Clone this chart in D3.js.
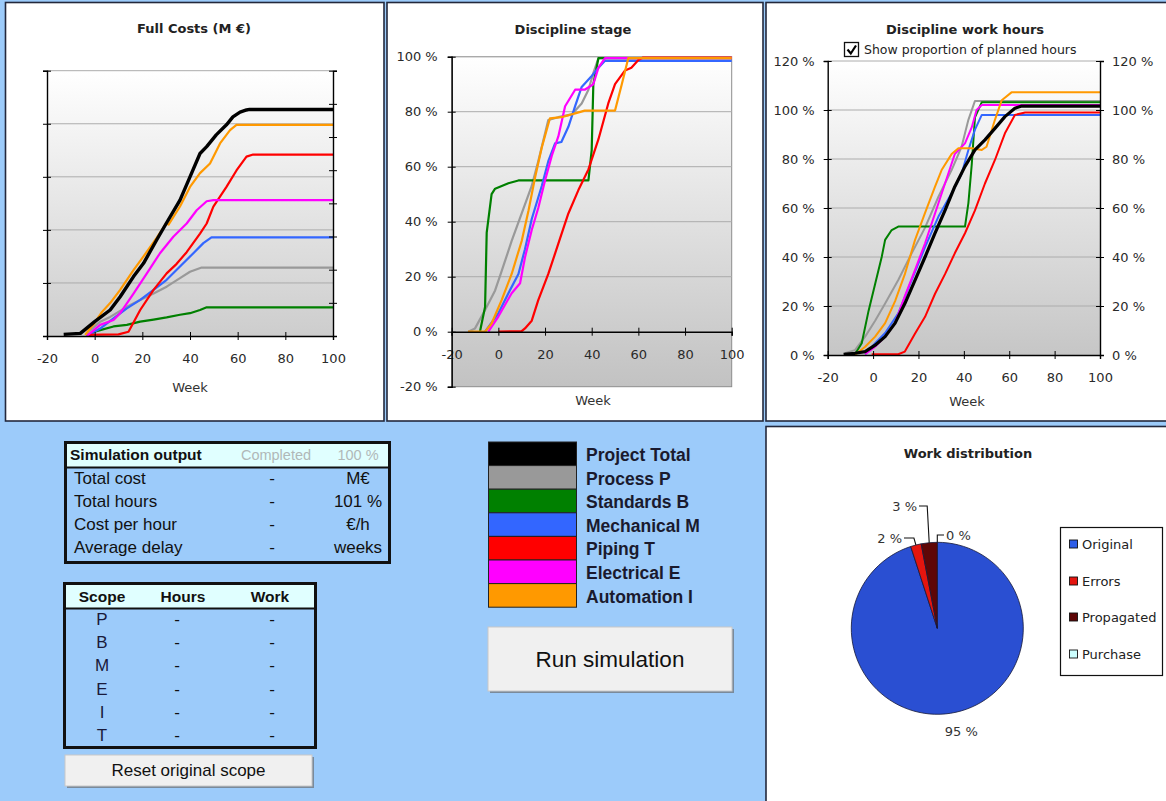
<!DOCTYPE html>
<html><head><meta charset="utf-8">
<script src="https://cdn.jsdelivr.net/npm/d3@7"></script>
<style>body{margin:0;background:#9ccbfa;} svg{display:block;}</style>
</head><body><svg id="c" width="1166" height="801"></svg>
<script>
// ---------------- DATA ----------------
const weekTicks = [-20, 0, 20, 40, 60, 80, 100];
const stageTicks = [-20, 0, 20, 40, 60, 80, 100];
const hoursTicks = [0, 20, 40, 60, 80, 100, 120];
const costLeftTicks = [0, 1, 2, 3, 4, 5];
const costRightTicks = [0, 1, 2, 3, 4, 5, 6, 7, 8];

const seriesNames = ["Project Total", "Process P", "Standards B", "Mechanical M", "Piping T", "Electrical E", "Automation I"];
const seriesColors = ["#000000", "#999999", "#008000", "#3366ff", "#ff0000", "#ff00ff", "#ff9900"];

// Full costs (unlabelled units, [week, value])
const costTotal = [[-13,0.03],[-6,0.05],[0,0.27],[6.5,0.49],[10.7,0.74],[16.3,1.12],[20.5,1.37],[26,1.81],[30,2.12],[35.8,2.56],[40,3.0],[44.2,3.44],[47,3.57],[51,3.79],[55.3,3.98],[58,4.13],[61,4.22],[63.7,4.26],[65,4.27],[100,4.27]];
const costProcess = [[-3.3,0.05],[2.3,0.27],[6.5,0.36],[13.5,0.55],[19.1,0.68],[24.7,0.80],[30.2,0.93],[35.8,1.09],[40,1.21],[44.9,1.29],[100,1.29]];
const costStandards = [[-3.3,0.0],[0,0.08],[2.3,0.11],[7.9,0.18],[13.5,0.21],[19.1,0.27],[24.7,0.31],[30.2,0.35],[35.8,0.40],[40,0.43],[44.2,0.49],[47,0.54],[100,0.54]];
const costMechanical = [[-3.3,0.0],[2.3,0.14],[7.9,0.33],[13.5,0.52],[19.1,0.68],[24.7,0.87],[30.2,1.06],[35.8,1.31],[41.4,1.56],[45.6,1.75],[49,1.86],[100,1.86]];
const costPiping = [[-3,0.02],[10,0.03],[14.2,0.08],[19.1,0.49],[24.7,0.87],[30.2,1.18],[34.4,1.36],[38.6,1.58],[44.2,1.93],[47,2.12],[49.8,2.44],[55.3,2.81],[59.5,3.12],[63.7,3.38],[66.5,3.42],[100,3.42]];
const costElectrical = [[-3.3,0.0],[2.3,0.21],[7.9,0.30],[10.7,0.43],[16.3,0.80],[21.9,1.18],[27.4,1.56],[33,1.87],[38.6,2.12],[42.8,2.37],[47,2.54],[49.8,2.56],[100,2.56]];
const costAutomation = [[-4,0.02],[0,0.25],[3,0.45],[6.5,0.62],[10.7,0.87],[16.3,1.24],[20.5,1.5],[26,1.85],[30,2.12],[31,2.1],[35.8,2.44],[40,2.81],[44.2,3.07],[48.4,3.25],[52.6,3.63],[56.8,3.88],[59.5,3.98],[100,3.98]];

// Discipline stage (%)
const stageProcess = [[-12.9,0],[-10,1.2],[-5.7,7.9],[-1.4,15],[1.4,22],[5.7,33],[10,43],[14.3,53],[17.1,62],[21.4,77],[25.7,78],[31.4,79],[35.7,83],[38.6,88],[40.7,94],[42.9,99.5],[100,99.5]];
const stageStandards = [[-7.9,0],[-5.7,9],[-5,36],[-2.9,50],[-1.4,52],[4.3,54],[8.6,55],[38.6,55],[40,66],[40.7,90],[42.9,99.5],[100,99.5]];
const stageMechanical = [[-5.7,0],[0,6.7],[4.3,14],[8.6,21],[11.4,30],[14.3,41],[18.6,53],[21.4,62],[24.3,68.5],[27,69],[30,74.5],[32.9,82],[35.7,89],[40,93],[42.9,96],[45.7,98.5],[100,98.5]];
const stagePiping = [[0,0],[10,0.2],[11.4,1.2],[14.3,4],[17.1,11.5],[21.4,21],[25.7,32],[30,43],[34.3,51.5],[38.6,59],[42.9,70],[47.1,83],[50,90],[54.3,95],[57,96],[60,98.8],[62,99.7],[100,99.7]];
const stageElectrical = [[-4.3,0],[0,5.5],[5.7,14],[9.3,17.6],[11.4,27],[14.3,37],[17.1,45],[20,55],[22.9,64],[25.7,71],[28.6,82],[32.9,88],[37,88],[40.7,90],[42.9,96],[45.7,99.5],[100,99.5]];
const stageAutomation = [[-13,0],[-5.7,0],[-2.9,3],[1.4,11.5],[5.7,21],[10,33],[12.9,44],[15.7,56],[18.6,67],[22.1,77.6],[27,78],[32.9,79.4],[37,80.4],[50,80.4],[52.9,90],[55.7,99.5],[100,99.5]];

// Discipline work hours (% of planned)
const hoursTotal = [[-13,0.3],[-8,0.7],[-3.5,1.4],[0.9,4],[5.3,7.5],[9.7,13],[14,21],[18.5,30.6],[22.9,40],[27.3,49.7],[31.7,59],[36,68.7],[40.5,77],[44.9,83.7],[49.3,87.8],[53.7,92.5],[58.1,97.3],[62.5,100.7],[65.5,101.6],[100,101.6]];
const hoursProcess = [[-12.4,0.7],[-8,2],[-3.5,7.5],[0.9,14],[5.3,21],[11.1,30.6],[17,41.5],[22.9,52],[28.8,64.6],[34.6,75.5],[39,85],[42,96],[44.9,103.7],[100,103.7]];
const hoursStandards = [[-8,0.3],[-5,4.8],[-2,18],[0.9,29],[3.8,40],[5.3,47],[8.2,51],[11.1,52.4],[40.5,52.4],[42,62],[43.5,78],[44.9,97],[47.9,103.2],[100,103.2]];
const hoursMechanical = [[-3.5,0.3],[0.9,4.8],[5.3,9],[11.1,17],[17,30.6],[22.9,44],[28.8,56.5],[34.6,66],[39,74],[42,83.7],[44.9,92],[47.9,98],[100,98]];
const hoursPiping = [[-0.6,0.3],[11.1,0.3],[14,1.4],[18.5,8.8],[22.9,15.6],[27.3,25],[31.7,33],[36,41.5],[40.5,49.7],[44.9,59],[49.3,70],[53.7,79.6],[58.1,90.5],[62.5,98],[67,99],[100,99]];
const hoursElectrical = [[-3.5,0.3],[0.9,3.4],[5.3,7.5],[9.7,13],[14,24],[18.5,34.7],[22.9,45.6],[27.3,57.8],[31.7,70],[36,82],[40.5,86.4],[43.5,93],[45.6,100],[47.9,102],[100,102]];
const hoursAutomation = [[-8,0],[-3.5,3.4],[0.9,7.5],[5.3,13],[9.7,22],[14,33],[18.5,47],[22.9,58],[27.3,68.7],[30.2,75.5],[34.6,82],[37.6,84.4],[43.5,84.4],[47.9,83.7],[50,85],[53.7,96],[56.7,104],[61,107.2],[100,107.2]];

// Work distribution pie
const pieLabels = ["Original", "Errors", "Propagated", "Purchase"];
const pieValues = [95, 2, 3, 0];

// Tables
const outputRows = ["Total cost", "Total hours", "Cost per hour", "Average delay"];
const outputValues = ["-", "-", "-", "-"];
const outputUnits = ["M€", "101 %", "€/h", "weeks"];
const scopeRows = ["P", "B", "M", "E", "I", "T"];
const scopeHours = ["-", "-", "-", "-", "-", "-"];
const scopeWork = ["-", "-", "-", "-", "-", "-"];

// ---------------- DRAW ----------------
const svg = d3.select("#c");
svg.append("rect").attr("width", 1166).attr("height", 801).attr("fill", "#9ccbfa");
const defs = svg.append("defs");
function vgrad(id, bottom) {
  const g = defs.append("linearGradient").attr("id", id).attr("x1", 0).attr("y1", 0).attr("x2", 0).attr("y2", 1);
  g.append("stop").attr("offset", 0).attr("stop-color", "#ffffff");
  g.append("stop").attr("offset", 1).attr("stop-color", bottom);
}
vgrad("g1", "#cdcdcd"); vgrad("g2", "#c2c2c2"); vgrad("g3", "#c6c6c6");

function panel(x, y, w, h) {
  svg.append("rect").attr("x", x).attr("y", y).attr("width", w).attr("height", h)
    .attr("fill", "#fff").attr("stroke", "#23283c").attr("stroke-width", 1.6);
}
panel(5.5, 2.5, 378.5, 418.5);
panel(387, 2.5, 376, 418.5);
panel(766, 2.5, 402, 418.5);
panel(766, 426.5, 402, 378);

const F = "DejaVu Sans";
const TXT = "#222";
const fmtNum = d => String(d);
const fmtPct = d => d + " %";

function title(x, y, s) {
  svg.append("text").attr("x", x).attr("y", y).attr("text-anchor", "middle").attr("dy", "0.35em")
    .attr("font-family", F).attr("font-weight", "bold").attr("font-size", 13).attr("fill", TXT).text(s);
}
function axisText(sel) {
  sel.selectAll("text").attr("font-family", F).attr("font-size", 13).attr("fill", "#2a2a2a");
}
function drawSeries(g, x, y, list, widths) {
  const line = d3.line().x(d => x(d[0])).y(d => y(d[1]));
  list.forEach(s => {
    g.append("path").attr("d", line(s.data)).attr("fill", "none").attr("stroke", seriesColors[s.c])
      .attr("stroke-width", widths[s.c]).attr("stroke-linejoin", "round");
  });
}

// ---- Chart 1: Full Costs ----
(function () {
  const L = 47, R = 333, T = 70.7, B = 336;
  const x = d3.scaleLinear().domain([-20, 100]).range([L, R]);
  const y = d3.scaleLinear().domain([0, 5]).range([B, T]);
  const yR = d3.scaleLinear().domain([0, 8]).range([B, T]);
  const g = svg.append("g");
  g.append("rect").attr("x", L).attr("y", T).attr("width", R - L).attr("height", B - T).attr("fill", "url(#g1)");
  g.selectAll(".gl").data(costLeftTicks.slice(1)).join("line")
    .attr("x1", L).attr("x2", R).attr("y1", d => y(d)).attr("y2", d => y(d)).attr("stroke", "#acacac");
  const series = [
    {data: costProcess, c: 1}, {data: costStandards, c: 2}, {data: costMechanical, c: 3},
    {data: costPiping, c: 4}, {data: costElectrical, c: 5}, {data: costAutomation, c: 6}, {data: costTotal, c: 0}];
  drawSeries(g, x, y, series, [3.4, 2.2, 2.2, 2.2, 2.2, 2.2, 2.2]);
  const ax = g.append("g").attr("transform", `translate(0,${B})`)
    .call(d3.axisBottom(x).tickValues(weekTicks).tickSize(4).tickPadding(14).tickFormat(fmtNum));
  ax.select(".domain").attr("stroke", "#000").attr("stroke-width", 1.4);
  ax.selectAll(".tick line").attr("y1", -4).attr("y2", 4).attr("stroke", "#000");
  axisText(ax);
  const al = g.append("g").attr("transform", `translate(${L},0)`)
    .call(d3.axisLeft(y).tickValues(costLeftTicks).tickSize(4).tickFormat(""));
  al.select(".domain").attr("stroke", "#000").attr("stroke-width", 1.4);
  al.selectAll(".tick line").attr("x1", -4).attr("x2", 4).attr("stroke", "#000");
  const ar = g.append("g").attr("transform", `translate(${R},0)`)
    .call(d3.axisRight(yR).tickValues(costRightTicks).tickSize(4).tickFormat(""));
  ar.select(".domain").attr("stroke", "#000").attr("stroke-width", 1.4);
  ar.selectAll(".tick line").attr("x1", -4).attr("x2", 4).attr("stroke", "#000");
  title(194, 28, "Full Costs (M €)");
  svg.append("text").attr("x", 190).attr("y", 387).attr("dy", "0.35em").attr("text-anchor", "middle")
    .attr("font-family", F).attr("font-size", 13).attr("fill", "#333").text("Week");
})();

// ---- Chart 2: Discipline stage ----
(function () {
  const L = 451.7, R = 731.7, T = 56.7, B = 386.7;
  const x = d3.scaleLinear().domain([-20, 100]).range([L, R]);
  const y = d3.scaleLinear().domain([-20, 100]).range([B, T]);
  const g = svg.append("g");
  g.append("rect").attr("x", L).attr("y", T).attr("width", R - L).attr("height", B - T)
    .attr("fill", "url(#g2)").attr("stroke", "#8c8c8c").attr("stroke-width", 1);
  g.selectAll(".gl").data(stageTicks.filter(d => d > 0)).join("line")
    .attr("x1", L).attr("x2", R).attr("y1", d => y(d)).attr("y2", d => y(d)).attr("stroke", "#acacac");
  const series = [
    {data: stageProcess, c: 1}, {data: stageStandards, c: 2}, {data: stageMechanical, c: 3},
    {data: stagePiping, c: 4}, {data: stageElectrical, c: 5}, {data: stageAutomation, c: 6}];
  drawSeries(g, x, y, series, [3, 2.2, 2.2, 2.2, 2.2, 2.2, 2.2]);
  const ax = g.append("g").attr("transform", `translate(0,${y(0)})`)
    .call(d3.axisBottom(x).tickValues(weekTicks).tickSize(4).tickPadding(14).tickFormat(fmtNum));
  ax.select(".domain").attr("stroke", "#000").attr("stroke-width", 1.4);
  ax.selectAll(".tick line").attr("y1", -4).attr("y2", 4).attr("stroke", "#000");
  axisText(ax);
  const al = g.append("g").attr("transform", `translate(${L},0)`)
    .call(d3.axisLeft(y).tickValues(stageTicks).tickSize(4).tickPadding(10).tickFormat(fmtPct));
  al.select(".domain").attr("stroke", "#000").attr("stroke-width", 1.4);
  al.selectAll(".tick line").attr("x1", -4).attr("x2", 4).attr("stroke", "#000");
  axisText(al);
  title(573, 29, "Discipline stage");
  svg.append("text").attr("x", 593).attr("y", 400).attr("dy", "0.35em").attr("text-anchor", "middle")
    .attr("font-family", F).attr("font-size", 13).attr("fill", "#333").text("Week");
})();

// ---- Chart 3: Discipline work hours ----
(function () {
  const L = 827.7, R = 1100, T = 61, B = 355;
  const x = d3.scaleLinear().domain([-20, 100]).range([L, R]);
  const y = d3.scaleLinear().domain([0, 120]).range([B, T]);
  const g = svg.append("g");
  g.append("rect").attr("x", L).attr("y", T).attr("width", R - L).attr("height", B - T).attr("fill", "url(#g3)");
  g.selectAll(".gl").data(hoursTicks.filter(d => d > 0)).join("line")
    .attr("x1", L).attr("x2", R).attr("y1", d => y(d)).attr("y2", d => y(d)).attr("stroke", "#acacac");
  const series = [
    {data: hoursProcess, c: 1}, {data: hoursStandards, c: 2}, {data: hoursMechanical, c: 3},
    {data: hoursPiping, c: 4}, {data: hoursElectrical, c: 5}, {data: hoursAutomation, c: 6}, {data: hoursTotal, c: 0}];
  drawSeries(g, x, y, series, [3.2, 2, 2, 2, 2, 2, 2]);
  const ax = g.append("g").attr("transform", `translate(0,${B})`)
    .call(d3.axisBottom(x).tickValues(weekTicks).tickSize(4).tickPadding(14).tickFormat(fmtNum));
  ax.select(".domain").attr("stroke", "#000").attr("stroke-width", 1.4);
  ax.selectAll(".tick line").attr("y1", -4).attr("y2", 4).attr("stroke", "#000");
  axisText(ax);
  const al = g.append("g").attr("transform", `translate(${L},0)`)
    .call(d3.axisLeft(y).tickValues(hoursTicks).tickSize(4).tickPadding(9).tickFormat(fmtPct));
  al.select(".domain").attr("stroke", "#000").attr("stroke-width", 1.4);
  al.selectAll(".tick line").attr("x1", -4).attr("x2", 4).attr("stroke", "#000");
  axisText(al);
  const ar = g.append("g").attr("transform", `translate(${R},0)`)
    .call(d3.axisRight(y).tickValues(hoursTicks).tickSize(4).tickPadding(8).tickFormat(fmtPct));
  ar.select(".domain").attr("stroke", "#000").attr("stroke-width", 1.4);
  ar.selectAll(".tick line").attr("x1", -4).attr("x2", 4).attr("stroke", "#000");
  axisText(ar);
  title(965, 29, "Discipline work hours");
  // checkbox
  svg.append("rect").attr("x", 844.5).attr("y", 42.5).attr("width", 14).attr("height", 14)
    .attr("fill", "#fff").attr("stroke", "#111").attr("stroke-width", 1.3);
  svg.append("path").attr("d", "M847.5,49.5 L850.8,53.5 L856,45.5").attr("fill", "none")
    .attr("stroke", "#000").attr("stroke-width", 2.2);
  svg.append("text").attr("x", 864).attr("y", 50).attr("dy", "0.35em").attr("font-family", F)
    .attr("font-size", 12.5).attr("fill", "#222").text("Show proportion of planned hours");
  svg.append("text").attr("x", 967).attr("y", 401).attr("dy", "0.35em").attr("text-anchor", "middle")
    .attr("font-family", F).attr("font-size", 13).attr("fill", "#333").text("Week");
})();

// ---- Pie: Work distribution ----
(function () {
  const cx = 937.3, cy = 628.3, r = 86;
  const pg = defs.append("radialGradient").attr("id", "pieg").attr("gradientUnits", "userSpaceOnUse")
    .attr("cx", cx).attr("cy", cy).attr("r", r);
  pg.append("stop").attr("offset", 0).attr("stop-color", "#3b72ff");
  pg.append("stop").attr("offset", 0.6).attr("stop-color", "#335fe8");
  pg.append("stop").attr("offset", 1).attr("stop-color", "#2a4fd2");
  const colors = ["url(#pieg)", "#e4150f", "#5e0606", "#ccffff"];
  const legendColors = ["#2f5ee8", "#e4150f", "#5e0606", "#ccffff"];
  const pie = d3.pie().sort(null).startAngle(0).endAngle(2 * Math.PI)(pieValues);
  const arc = d3.arc().innerRadius(0).outerRadius(r);
  const g = svg.append("g").attr("transform", `translate(${cx},${cy})`);
  g.selectAll("path").data(pie.filter(d => d.value > 0)).join("path").attr("d", arc)
    .attr("fill", d => colors[d.index]).attr("stroke", "#141838").attr("stroke-width", 0.8);
  const lab = (x, y, s, anchor) => svg.append("text").attr("x", x).attr("y", y).attr("dy", "0.35em")
    .attr("text-anchor", anchor).attr("font-family", F).attr("font-size", 13).attr("fill", "#333").text(s);
  const mid = d => (d.startAngle + d.endAngle) / 2;
  const pt = (a, rr) => [cx + rr * Math.sin(a), cy - rr * Math.cos(a)];
  const p0 = pt(mid(pie[0]), r + 16);
  lab(p0[0] + 8, p0[1] + 2, pieValues[0] + " %", "middle");
  const leaders = [
    {i: 1, ey: 538, lx: 903, anchor: "end"},
    {i: 2, ey: 506, lx: 918, anchor: "end"},
    {i: 3, ey: 535, lx: 945, anchor: "start"}];
  leaders.forEach(o => {
    const d = pie[o.i];
    const a = d.value > 0 ? mid(d) : d.startAngle;
    const p = pt(a, r);
    const ex = o.anchor === "end" ? p[0] - 2 : p[0];
    svg.append("path").attr("d", `M${p[0]},${p[1]} L${ex},${o.ey} L${o.lx + (o.anchor === "end" ? 1 : -1)},${o.ey}`)
      .attr("fill", "none").attr("stroke", "#111").attr("stroke-width", 1.1);
    lab(o.anchor === "end" ? o.lx - 1 : o.lx + 1, o.ey, pieValues[o.i] + " %", o.anchor);
  });
  title(968, 453, "Work distribution");
  svg.append("rect").attr("x", 1060.5).attr("y", 527.5).attr("width", 102).attr("height", 148)
    .attr("fill", "#fff").attr("stroke", "#111").attr("stroke-width", 1.2);
  const ly = [544, 581, 617, 654];
  pieLabels.forEach((s, i) => {
    svg.append("rect").attr("x", 1069.5).attr("y", ly[i] - 4).attr("width", 8).attr("height", 8)
      .attr("fill", legendColors[i]).attr("stroke", "#111").attr("stroke-width", 0.9);
    svg.append("text").attr("x", 1082).attr("y", ly[i]).attr("dy", "0.35em").attr("font-family", F)
      .attr("font-size", 13).attr("fill", "#222").text(s);
  });
})();

// ---- Lower-left tables ----
const A = "Liberation Sans";
(function () {
  svg.append("rect").attr("x", 66).attr("y", 443).attr("width", 323).attr("height", 24).attr("fill", "#e0ffff");
  svg.append("rect").attr("x", 65.5).attr("y", 442.5).attr("width", 324).attr("height", 120)
    .attr("fill", "none").attr("stroke", "#111").attr("stroke-width", 3);
  svg.append("line").attr("x1", 65).attr("x2", 390).attr("y1", 467.5).attr("y2", 467.5).attr("stroke", "#111").attr("stroke-width", 2);
  const t = (x, y, s, o = {}) => svg.append("text").attr("x", x).attr("y", y).attr("dy", "0.35em")
    .attr("text-anchor", o.a || "start").attr("font-family", A).attr("font-size", o.s || 17)
    .attr("font-weight", o.b ? "bold" : "normal").attr("fill", o.c || "#111").text(s);
  t(70, 455, "Simulation output", {b: 1, s: 15.5});
  t(276, 455, "Completed", {a: "middle", s: 14.5, c: "#b0b8b8"});
  t(358, 455, "100 %", {a: "middle", s: 14.5, c: "#b0b8b8"});
  const rowsY = [478, 501, 524, 547];
  outputRows.forEach((s, i) => {
    t(74, rowsY[i], s);
    t(272, rowsY[i], outputValues[i], {a: "middle"});
    t(358, rowsY[i], outputUnits[i], {a: "middle"});
  });

  svg.append("rect").attr("x", 65).attr("y", 584).attr("width", 250).attr("height", 24).attr("fill", "#e0ffff");
  svg.append("rect").attr("x", 64.5).attr("y", 583.5).attr("width", 251).attr("height", 164)
    .attr("fill", "none").attr("stroke", "#111").attr("stroke-width", 3);
  svg.append("line").attr("x1", 64).attr("x2", 316).attr("y1", 608.5).attr("y2", 608.5).attr("stroke", "#111").attr("stroke-width", 2);
  t(102, 597, "Scope", {a: "middle", b: 1, s: 15.5});
  t(183, 597, "Hours", {a: "middle", b: 1, s: 15.5});
  t(270, 597, "Work", {a: "middle", b: 1, s: 15.5});
  const sy = [619, 642, 665, 689, 712, 735];
  scopeRows.forEach((s, i) => {
    t(102, sy[i], s, {a: "middle", c: "#1a1a3a"});
    t(177, sy[i], scopeHours[i], {a: "middle"});
    t(272, sy[i], scopeWork[i], {a: "middle"});
  });

  function button(x, y, w, h, label, size) {
    svg.append("rect").attr("x", x + 2).attr("y", y + 2).attr("width", w).attr("height", h).attr("fill", "#7a8a9a");
    svg.append("rect").attr("x", x).attr("y", y).attr("width", w).attr("height", h).attr("fill", "#f0f0f0")
      .attr("stroke", "#c8c8c8").attr("stroke-width", 1);
    t(x + w / 2, y + h / 2, label, {a: "middle", s: size});
  }
  button(65, 755, 247, 31, "Reset original scope", 17);
  button(488, 627, 244, 64, "Run simulation", 22.5);

  const lyTop = 442, lh = 23.6;
  seriesNames.forEach((s, i) => {
    svg.append("rect").attr("x", 488.5).attr("y", lyTop + i * lh).attr("width", 88).attr("height", lh)
      .attr("fill", seriesColors[i]).attr("stroke", "#222").attr("stroke-width", 1);
    t(586, lyTop + i * lh + lh / 2 + 1, s, {b: 1, s: 17.5, c: "#1a1a2e"});
  });
})();
</script></body></html>
